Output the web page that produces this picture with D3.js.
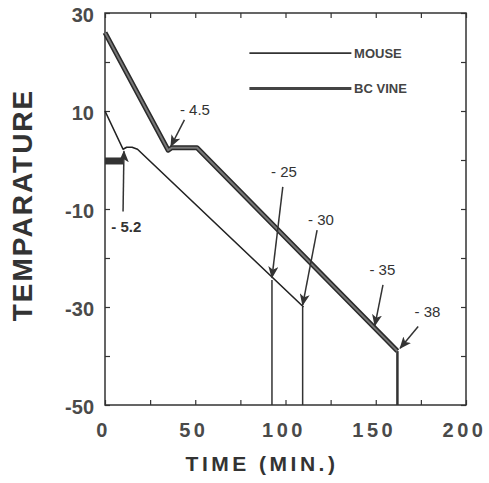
<!DOCTYPE html>
<html>
<head>
<meta charset="utf-8">
<script src="https://cdn.jsdelivr.net/npm/d3@7"></script>
<style>
  body { margin: 0; background: #fff; }
  svg { display: block; font-family: "Liberation Sans", Arial, sans-serif; }
  .tick text { fill: #4a4a4a; }
</style>
</head>
<body>
<div id="chart"></div>
<script>
// curves (time in min, temperature)
var vineTime = [0, 35, 37, 51, 162];
var vineTemp = [26, 2, 2.5, 2.5, -39];

var mouseTime = [0, 10, 12, 15, 18, 110];
var mouseTemp = [10, 2.2, 2.6, 2.6, 2.2, -30];

// short dark bar at the mouse nucleation point
var barTime = [0, 10];
var barTemp = [-0.2, -0.2];

// drops at the freezing events
var dropTime = [92.5, 109.5, 162];
var dropTemp = [-24.5, -30, -39];

// arrows + labels
var arrowLabels = ["- 4.5", "- 5.2", "- 25", "- 30", "- 35", "- 38"];
var tailTime = [44, 10, 98.5, 117.5, 154, 173.5];
var tailTemp = [8.2, -10.5, -5.5, -14.3, -25.5, -34];
var headTime = [36.5, 10.5, 92.5, 109.5, 149.5, 163.5];
var headTemp = [2.8, 1.8, -24, -29.6, -33.8, -38.4];
var labelTime = [41.5, 3.5, 92, 112.5, 146.5, 171.5];
var labelTemp = [9.2, -14.7, -3.5, -13.3, -23.5, -32];

var legendNames = ["MOUSE", "BC VINE"];
var legendTemp = [21.8, 14.6];

var yTickLabels = [30, 10, -10, -30, -50];
var xTickLabels = [0, 50, 100, 150, 200];

var width = 489, height = 483;

var svg = d3.select("#chart").append("svg")
    .attr("width", width)
    .attr("height", height);

var x = d3.scaleLinear().domain([0, 200]).range([105, 466]);
var y = d3.scaleLinear().domain([-50, 30]).range([405, 13]);

svg.append("defs").append("marker")
    .attr("id", "head")
    .attr("viewBox", "0 0 12 10")
    .attr("refX", 11)
    .attr("refY", 5)
    .attr("markerWidth", 12)
    .attr("markerHeight", 10)
    .attr("markerUnits", "userSpaceOnUse")
    .attr("orient", "auto")
    .append("path")
    .attr("d", "M0,0 L12,5 L0,10 L3,5 Z")
    .attr("fill", "#333");

// frame
svg.append("rect")
    .attr("x", x(0)).attr("y", y(30))
    .attr("width", x(200) - x(0)).attr("height", y(-50) - y(30))
    .attr("fill", "none").attr("stroke", "#333").attr("stroke-width", 1.5);

// inward ticks on all four sides
var minorY = d3.range(-50, 31, 10);
var minorX = d3.range(0, 201, 25);

function tickAxis(axis, tr) {
  var g = svg.append("g").attr("transform", tr).call(axis);
  g.select(".domain").remove();
  g.selectAll(".tick line").attr("stroke", "#333").attr("stroke-width", 1.2);
  g.selectAll("text").remove();
}
tickAxis(d3.axisLeft(y).tickValues(minorY).tickSize(-5), "translate(" + x(0) + ",0)");
tickAxis(d3.axisRight(y).tickValues(minorY).tickSize(-5), "translate(" + x(200) + ",0)");
tickAxis(d3.axisBottom(x).tickValues(minorX).tickSize(-5), "translate(0," + y(-50) + ")");
tickAxis(d3.axisTop(x).tickValues(minorX).tickSize(-5), "translate(0," + y(30) + ")");

// tick labels
var yAx = svg.append("g")
    .attr("transform", "translate(" + (x(0) - 11) + ",0)")
    .call(d3.axisLeft(y).tickValues(yTickLabels).tickSize(0).tickPadding(0)
        .tickFormat(function(d) { return String(d); }));
yAx.select(".domain").remove();
yAx.selectAll("text")
    .attr("font-size", 20).attr("font-weight", "bold")
    .attr("font-family", "Liberation Sans, Arial, sans-serif")
    .attr("dy", "0.85em").attr("x", 0).attr("y", -9);

var xAx = svg.append("g")
    .attr("transform", "translate(0," + (y(-50) + 12) + ")")
    .call(d3.axisBottom(x).tickValues(xTickLabels).tickSize(0).tickPadding(0));
xAx.select(".domain").remove();
xAx.selectAll("text")
    .attr("font-size", 20).attr("font-weight", "bold")
    .attr("font-family", "Liberation Sans, Arial, sans-serif")
    .attr("letter-spacing", "3.5px")
    .attr("dx", "-2px")
    .attr("dy", "0.85em").attr("y", 3);

// axis titles
svg.append("text")
    .attr("x", 262).attr("y", 471)
    .attr("text-anchor", "middle")
    .attr("font-size", 21).attr("font-weight", "bold")
    .attr("letter-spacing", "3.5px")
    .attr("fill", "#333")
    .text("TIME (MIN.)");

svg.append("text")
    .attr("transform", "translate(32,205) rotate(-90)")
    .attr("text-anchor", "middle")
    .attr("font-size", 28).attr("font-weight", "bold")
    .attr("letter-spacing", "2px")
    .attr("fill", "#333")
    .text("TEMPARATURE");

var line = d3.line().x(function(d) { return x(d[0]); }).y(function(d) { return y(d[1]); });

// drop lines
dropTime.forEach(function(t, i) {
  svg.append("line")
      .attr("x1", x(t)).attr("x2", x(t))
      .attr("y1", y(dropTemp[i])).attr("y2", y(-50))
      .attr("stroke", "#333").attr("stroke-width", i == 2 ? 2.5 : 1.5);
});

// BC vine curve
svg.append("path")
    .attr("d", line(d3.zip(vineTime, vineTemp)))
    .attr("fill", "none").attr("stroke", "#2a2a2a").attr("stroke-width", 5)
    .attr("stroke-linejoin", "round");
svg.append("path")
    .attr("d", line(d3.zip(vineTime, vineTemp)))
    .attr("fill", "none").attr("stroke", "#777").attr("stroke-width", 2)
    .attr("stroke-linejoin", "round");

// mouse curve
svg.append("path")
    .attr("d", line(d3.zip(mouseTime, mouseTemp)))
    .attr("fill", "none").attr("stroke", "#222").attr("stroke-width", 1.6)
    .attr("stroke-linejoin", "round");

svg.append("path")
    .attr("d", line(d3.zip(barTime, barTemp)))
    .attr("stroke", "#333").attr("stroke-width", 7);

// arrows
arrowLabels.forEach(function(lab, i) {
  svg.append("line")
      .attr("x1", x(tailTime[i])).attr("y1", y(tailTemp[i]))
      .attr("x2", x(headTime[i])).attr("y2", y(headTemp[i]))
      .attr("stroke", "#333").attr("stroke-width", 1.5)
      .attr("marker-end", "url(#head)");
  svg.append("text")
      .attr("x", x(labelTime[i])).attr("y", y(labelTemp[i]))
      .attr("font-size", 15)
      .attr("fill", "#333")
      .attr("font-weight", i == 1 ? "bold" : "normal")
      .text(lab);
});

// legend
legendNames.forEach(function(name, i) {
  svg.append("line")
      .attr("x1", x(80)).attr("x2", x(136.5))
      .attr("y1", y(legendTemp[i])).attr("y2", y(legendTemp[i]))
      .attr("stroke", i == 0 ? "#333" : "#444")
      .attr("stroke-width", i == 0 ? 1.8 : 3);
  svg.append("text")
      .attr("x", x(138)).attr("y", y(legendTemp[i]) + 5)
      .attr("font-size", 13).attr("font-weight", "bold")
      .attr("fill", "#444")
      .text(name);
});
</script>
</body>
</html>
